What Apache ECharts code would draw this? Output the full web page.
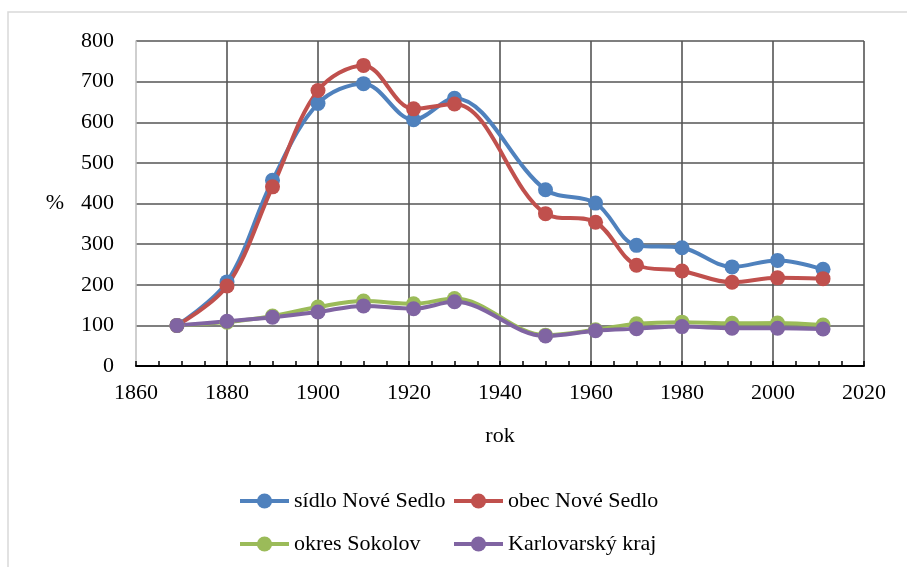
<!DOCTYPE html>
<html>
<head>
<meta charset="utf-8">
<script src="https://cdn.jsdelivr.net/npm/echarts@6/dist/echarts.min.js"></script>
<style>
  html, body { margin: 0; padding: 0; background: #fff; }
  #chart { width: 907px; height: 567px; }
</style>
</head>
<body>
<div id="chart"></div>
<script>
// roky sčítání a indexy (1869 = 100 %)
const years = [1869, 1880, 1890, 1900, 1910, 1921, 1930, 1950, 1961, 1970, 1980, 1991, 2001, 2011];
const sidlo = [100, 207, 457, 646, 695, 606, 659, 434, 401, 297, 291, 244, 260, 238];
const obec = [100, 197, 441, 678, 740, 633, 645, 375, 354, 248, 234, 206, 217, 215];
const okres = [100, 108, 123, 145, 160, 153, 166, 76, 89, 104, 108, 105, 106, 101];
const kraj = [100, 110, 120, 133, 148, 141, 158, 74, 87, 92, 97, 93, 93, 91];

const names = ["sídlo Nové Sedlo", "obec Nové Sedlo", "okres Sokolov", "Karlovarský kraj"];
const colors = ["#4F81BD", "#C0504D", "#9BBB59", "#8064A2"];
const FONT = "Liberation Serif, Times New Roman, serif";

const chart = echarts.init(document.getElementById("chart"));

function makeSeries(name, values, color) {
  return {
    name: name,
    type: "line",
    smooth: 0.35,
    data: years.map((y, i) => [y, values[i]]),
    symbol: "circle",
    symbolSize: 15,
    lineStyle: { color: color, width: 4 },
    itemStyle: { color: color },
    emphasis: { disabled: true },
  };
}

const legendBase = {
  orient: "vertical",
  top: 490,
  padding: 0,
  itemWidth: 49,
  itemHeight: 19,
  itemGap: 21,
  lineStyle: { width: 4 },
  textStyle: { fontFamily: FONT, fontSize: 22, color: "#000", lineHeight: 22 },
};

chart.setOption({
  backgroundColor: "#fff",
  color: colors,
  animation: false,
  graphic: [
    {
      type: "rect",
      shape: { x: 8, y: 12, width: 920, height: 600 },
      style: { fill: "none", stroke: "#d9d9d9", lineWidth: 1.5 },
      silent: true,
    },
  ],
  legend: [
    Object.assign({}, legendBase, { left: 238, data: [names[0], names[2]] }),
    Object.assign({}, legendBase, { left: 452, data: [names[1], names[3]] }),
  ],
  grid: { left: 136, right: 43, top: 41, bottom: 201 },
  xAxis: {
    type: "value",
    min: 1860,
    max: 2020,
    interval: 20,
    name: "rok",
    nameLocation: "middle",
    nameGap: 59,
    nameTextStyle: { fontFamily: FONT, fontSize: 22, color: "#000" },
    axisLine: { lineStyle: { color: "#000", width: 2 } },
    axisTick: { show: true, inside: true, length: 5, lineStyle: { color: "#000", width: 1.5 } },
    minorTick: { show: true, splitNumber: 4, length: 5, lineStyle: { color: "#000", width: 1.5 } },
    axisLabel: {
      fontFamily: FONT,
      fontSize: 22,
      color: "#000",
      margin: 16,
      formatter: (v) => String(v),
    },
    splitLine: { show: true, showMinLine: false, lineStyle: { color: "#555", width: 1.6 } },
  },
  yAxis: {
    type: "value",
    min: 0,
    max: 800,
    interval: 100,
    name: "%",
    nameLocation: "middle",
    nameRotate: 0,
    nameGap: 72,
    nameTextStyle: { fontFamily: FONT, fontSize: 22, color: "#000" },
    axisLine: { show: true, lineStyle: { color: "#bfbfbf", width: 1.5 } },
    axisTick: { show: false },
    axisLabel: { fontFamily: FONT, fontSize: 22, color: "#000", margin: 22 },
    splitLine: { show: true, showMinLine: false, lineStyle: { color: "#555", width: 1.6 } },
  },
  series: [
    makeSeries(names[0], sidlo, colors[0]),
    makeSeries(names[1], obec, colors[1]),
    makeSeries(names[2], okres, colors[2]),
    makeSeries(names[3], kraj, colors[3]),
  ],
});
</script>
</body>
</html>
